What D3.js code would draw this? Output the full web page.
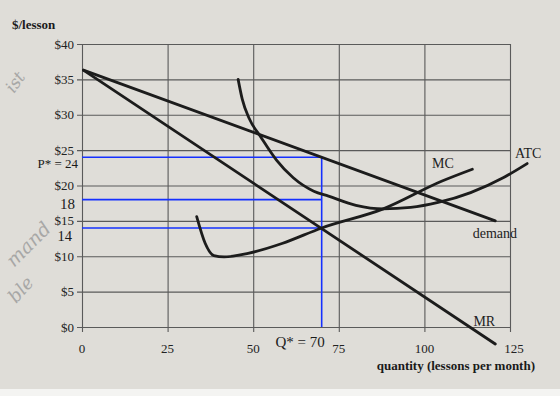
<!DOCTYPE html>
<html><head><meta charset="utf-8">
<script src="https://cdn.jsdelivr.net/npm/d3@7"></script>
<style>
html,body{margin:0;padding:0;background:#fff;}
svg{display:block;}
</style></head>
<body>
<svg id="chart" width="560" height="396"></svg>
<script>
// ---- data ----
const qTicks = [0, 25, 50, 75, 100, 125];
const qTickLabels = ["0", "25", "50", "75", "100", "125"];
const pTicks = [0, 5, 10, 15, 20, 25, 30, 35, 40];
const pTickLabels = ["$0", "$5", "$10", "$15", "$20", "$25", "$30", "$35", "$40"];
const markValues = [24, 18, 14];
const markLabels = ["P* = 24", "18", "14"];
const qStar = 70;
const qStarLabel = "Q* = 70";

const demandQ = [0.4, 120.7];
const demandP = [36.3, 15.0];
const mrQ = [0.4, 120.7];
const mrP = [36.3, -2.4];
const mcQ = [33.5, 36, 38.5, 41.5, 48.5, 58.4, 70, 88, 105, 114];
const mcP = [15.6, 11.8, 10.1, 9.9, 10.4, 11.8, 14, 16.7, 20.6, 22.3];
const atcQ = [45.6, 46.8, 48.8, 52.3, 56.8, 61.7, 67.7, 72, 80, 88, 96, 104, 113.5, 123, 130];
const atcP = [35, 32.2, 29.5, 26.8, 23.6, 21.1, 19.2, 18.5, 17.2, 16.7, 16.9, 17.6, 19.0, 21.1, 23.1];

const curveLabels = ["demand", "MR", "MC", "ATC"];
const curveLabelQ = [120.6, 117.5, 105.4, 130.3];
const curveLabelP = [12.6, 0.15, 22.5, 23.9];
const yTitle = "$/lesson";
const xTitle = "quantity (lessons per month)";
const handNotes = ["ist", "mand", "ble"];

// ---- drawing ----
const svg = d3.select("#chart");
const W = 560, H = 396;
const serif = "'Liberation Serif', 'DejaVu Serif', serif";

// paper background
svg.append("rect").attr("width", W).attr("height", H).attr("fill", "#dfddd8");
svg.append("rect").attr("y", 389).attr("width", W).attr("height", 7).attr("fill", "#f4f4f2");

const x = d3.scaleLinear().domain([0, 125]).range([82, 510]);
const y = d3.scaleLinear().domain([0, 40]).range([327, 44]);

const gridColor = "#5a5a5a";

// horizontal grid lines (with short stub to the left)
const yAxis = d3.axisLeft(y).tickValues(pTicks)
  .tickSize(-(x(125) - x(0))).tickFormat("");
const gy = svg.append("g").attr("transform", `translate(${x(0)},0)`).call(yAxis);
gy.select(".domain").remove();
gy.selectAll(".tick line").attr("stroke", gridColor).attr("stroke-width", 1.1)
  .attr("x1", -5);

// vertical grid lines (with short stub below)
const xAxis = d3.axisBottom(x).tickValues(qTicks)
  .tickSize(-(y(0) - y(40))).tickFormat("");
const gx = svg.append("g").attr("transform", `translate(0,${y(0)})`).call(xAxis);
gx.select(".domain").remove();
gx.selectAll(".tick line").attr("stroke", gridColor).attr("stroke-width", 1.1)
  .attr("y1", 5);

// y tick labels
svg.append("g").selectAll("text").data(pTicks).join("text")
  .attr("x", x(0) - 8).attr("y", d => y(d) + 4.5)
  .attr("text-anchor", "end")
  .attr("font-family", serif).attr("font-size", 13).attr("fill", "#222")
  .text((d, i) => pTickLabels[i]);

// x tick labels
svg.append("g").selectAll("text").data(qTicks).join("text")
  .attr("x", (d, i) => x(d) + (i === 5 ? 4 : 0)).attr("y", y(0) + 26)
  .attr("text-anchor", "middle")
  .attr("font-family", serif).attr("font-size", 13).attr("fill", "#222")
  .text((d, i) => qTickLabels[i]);

// blue annotation lines
const blue = "#1530ff";
svg.append("g").selectAll("line").data(markValues).join("line")
  .attr("x1", x(0)).attr("x2", x(qStar))
  .attr("y1", d => y(d)).attr("y2", d => y(d))
  .attr("stroke", blue).attr("stroke-width", 1.6);
svg.append("line")
  .attr("x1", x(qStar)).attr("x2", x(qStar))
  .attr("y1", y(markValues[0])).attr("y2", y(0))
  .attr("stroke", blue).attr("stroke-width", 1.6);

// annotation labels (sit just below their blue lines)
const markDy = [11, 9.5, 13.5];
const markSize = [13, 15, 14.5];
svg.append("g").selectAll("text").data(markValues).join("text")
  .attr("x", (d, i) => x(0) - (i === 0 ? 4 : (i === 2 ? 10 : 7))).attr("y", (d, i) => y(d) + markDy[i])
  .attr("text-anchor", "end")
  .attr("font-family", serif)
  .attr("font-size", (d, i) => markSize[i]).attr("fill", "#1a1a1a")
  .text((d, i) => markLabels[i]);
svg.append("text")
  .attr("x", x(qStar) + 3).attr("y", y(0) + 20)
  .attr("text-anchor", "end")
  .attr("font-family", serif).attr("font-size", 15).attr("fill", "#1a1a1a")
  .text(qStarLabel);

// curves
const ink = "#1c1c1c";
const straight = d3.line().x(d => x(d[0])).y(d => y(d[1]));
const smooth = d3.line().x(d => x(d[0])).y(d => y(d[1])).curve(d3.curveMonotoneX);
const zip = (a, b) => a.map((v, i) => [v, b[i]]);

function drawCurve(gen, pts) {
  svg.append("path").attr("d", gen(pts))
    .attr("fill", "none").attr("stroke", ink).attr("stroke-width", 2.8)
    .attr("stroke-linecap", "round").attr("stroke-linejoin", "round");
}
drawCurve(straight, zip(demandQ, demandP));
drawCurve(straight, zip(mrQ, mrP));
drawCurve(smooth, zip(mcQ, mcP));
drawCurve(smooth, zip(atcQ, atcP));

// curve labels
svg.append("g").selectAll("text").data(curveLabels).join("text")
  .attr("x", (d, i) => x(curveLabelQ[i]))
  .attr("y", (d, i) => y(curveLabelP[i]))
  .attr("text-anchor", "middle")
  .attr("font-family", serif).attr("font-size", 14).attr("fill", "#222")
  .text(d => d);

// axis titles
svg.append("text").attr("x", 12).attr("y", 29)
  .attr("font-family", serif).attr("font-size", 13).attr("font-weight", "bold").attr("fill", "#1a1a1a")
  .text(yTitle);
svg.append("text").attr("x", 535).attr("y", 370)
  .attr("text-anchor", "end")
  .attr("font-family", serif).attr("font-size", 13).attr("font-weight", "bold").attr("fill", "#1a1a1a")
  .text(xTitle);

// faint handwriting in the margin
const handPos = [[14, 94, -55, 17], [14, 268, -45, 19], [16, 304, -48, 18]];
svg.append("g").selectAll("text").data(handNotes).join("text")
  .attr("transform", (d, i) => `translate(${handPos[i][0]},${handPos[i][1]}) rotate(${handPos[i][2]})`)
  .attr("font-family", "'DejaVu Serif', serif").attr("font-style", "italic")
  .attr("font-size", (d, i) => handPos[i][3]).attr("fill", "#9a9a9a").attr("opacity", 0.8)
  .text(d => d);
</script>
</body></html>
